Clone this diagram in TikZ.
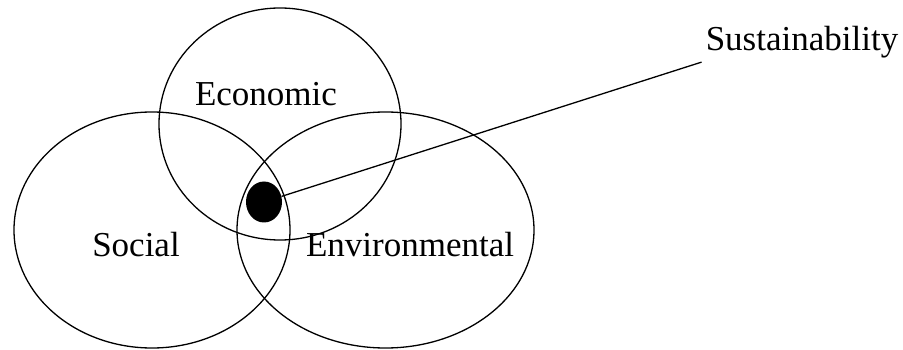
\documentclass[tikz,border=0pt]{standalone}
\usepackage{fontspec}
\setmainfont{Liberation Serif}
\usetikzlibrary{shapes.geometric}
\tikzset{
  pillar/.style={draw, ellipse, line width=1.3pt, inner sep=0pt},
  lbl/.style={font=\fontsize{35}{40}\selectfont, inner sep=0pt}
}
\begin{document}
\begin{tikzpicture}[x=1pt, y=-1pt]
\useasboundingbox (0,0) rectangle (903,350);
% the three pillars
\node[pillar, minimum width=242pt, minimum height=232pt] (econ) at (280,124) {};
\node[pillar, minimum width=276pt, minimum height=236pt] (soc) at (152,230) {};
\node[pillar, minimum width=297pt, minimum height=236pt] (env) at (385.5,230) {};
\node[lbl] (econlbl) at (266,94) {Economic};
\node[lbl] (soclbl) at (136,245) {Social};
\node[lbl] (envlbl) at (410,245) {Environmental};
% where they all meet
\node[fill, ellipse, minimum width=36pt, minimum height=41pt, inner sep=0pt] (dot) at (264,202) {};
\node[lbl, inner sep=4pt] (sust) at (802,42) {Sustainability};
\draw[line width=1.3pt] (dot) -- (sust.south west);
\end{tikzpicture}
\end{document}
